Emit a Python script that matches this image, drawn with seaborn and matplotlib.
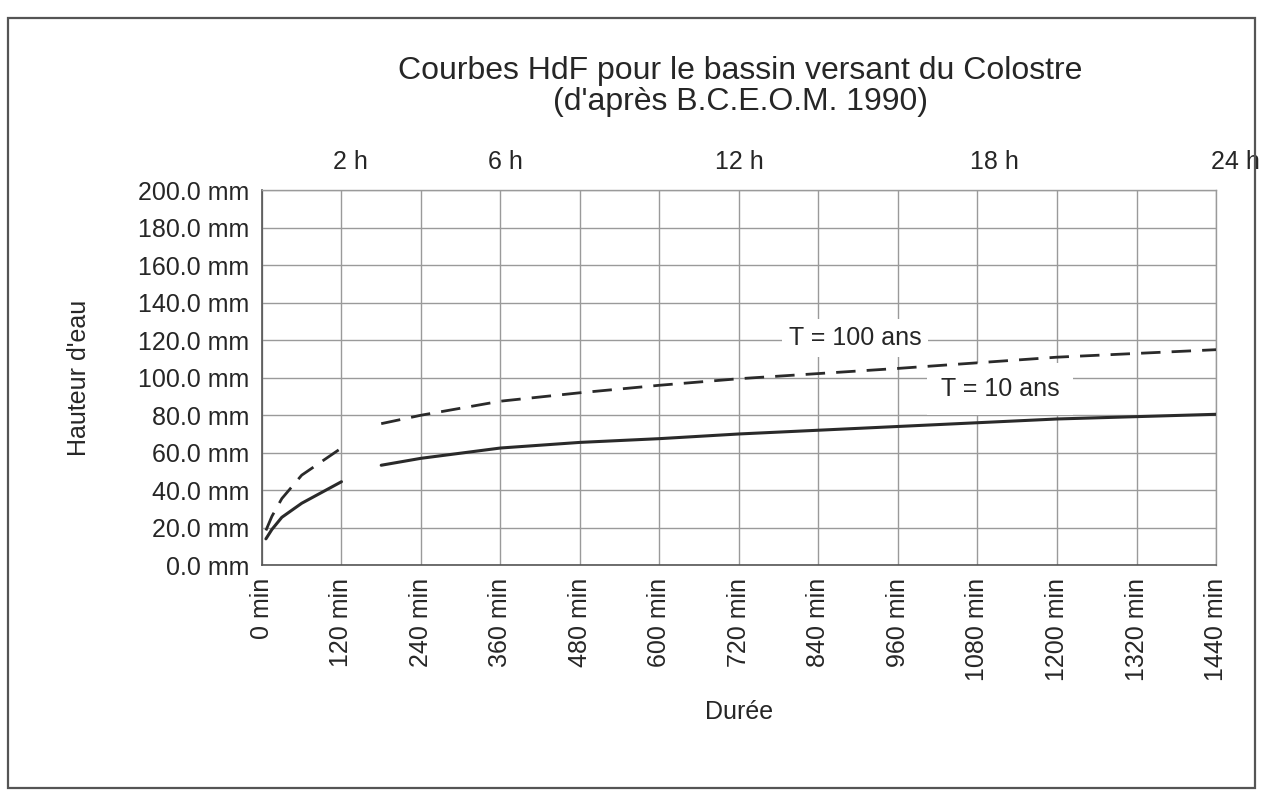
import numpy as np
import pandas as pd
import matplotlib
matplotlib.use("Agg")
import matplotlib.pyplot as plt
from matplotlib.patches import Rectangle
import seaborn as sns

# Durations (min) and rainfall depths (mm), short-duration and long-duration branches
dur_short = [6, 15, 30, 60, 120]
dur_long = [180, 240, 360, 480, 600, 720, 960, 1200, 1440]

t10_short = [14.0, 19.0, 25.5, 33.0, 44.5]
t10_long = [53.3, 57.0, 62.5, 65.5, 67.5, 70.0, 74.0, 78.0, 80.5]

t100_short = [18.5, 26.0, 35.5, 48.0, 62.5]
t100_long = [75.5, 80.0, 87.5, 92.0, 96.0, 99.5, 105.0, 111.0, 115.0]

x_ticks = list(range(0, 1441, 120))
y_ticks = list(range(0, 201, 20))
hour_labels = ["2 h", "6 h", "12 h", "18 h", "24 h"]
hour_pos = [133, 367, 721, 1106, 1470]

title = "Courbes HdF pour le bassin versant du Colostre\n(d'après B.C.E.O.M. 1990)"

FS = 18

sns.set_style("white")
plt.rcParams["font.family"] = ["Liberation Sans", "DejaVu Sans"]

fig = plt.figure(figsize=(12.63, 7.97), dpi=100)
ax = fig.add_axes([0.2074, 0.291, 0.7554, 0.470])

# frame around the whole chart
fig.patches.append(Rectangle((8 / 1263, 1 - 788 / 797), (1255 - 8) / 1263, (788 - 18) / 797,
                             transform=fig.transFigure, fill=False,
                             edgecolor="#555555", linewidth=1.6))

frames = []
for name, ds, vs in [("T10", dur_short, t10_short), ("T10", dur_long, t10_long),
                     ("T100", dur_short, t100_short), ("T100", dur_long, t100_long)]:
    frames.append(pd.DataFrame({"duree": ds, "hauteur": vs, "serie": name,
                                "branche": "court" if ds is dur_short else "long"}))
df = pd.concat(frames, ignore_index=True)

for (serie, branche), sub in df.groupby(["serie", "branche"]):
    if serie == "T10":
        sns.lineplot(data=sub, x="duree", y="hauteur", ax=ax, color="#2a2a2a",
                     linewidth=2.2, zorder=5, sort=True)
    else:
        line = sns.lineplot(data=sub, x="duree", y="hauteur", ax=ax, color="#2a2a2a",
                            linewidth=2.0, zorder=5, sort=True).lines[-1]
        line.set_dashes([7, 4])

ax.set_xlim(0, 1440)
ax.set_ylim(0, 200)
ax.set_xticks(x_ticks)
ax.set_xticklabels([f"{v} min" for v in x_ticks], rotation=90, fontsize=FS)
ax.set_yticks(y_ticks)
ax.set_yticklabels([f"{v:.1f} mm" for v in y_ticks], fontsize=FS)
ax.grid(True, color="#9a9a9a", linewidth=1.0)
ax.set_axisbelow(True)
ax.tick_params(axis="both", direction="inout", length=8, width=1, color="#555555", pad=5)
for side in ["top", "right"]:
    ax.spines[side].set_color("#9a9a9a")
    ax.spines[side].set_linewidth(1.0)
for side in ["left", "bottom"]:
    ax.spines[side].set_color("#555555")
    ax.spines[side].set_linewidth(1.2)

ax.set_xlabel("Durée", fontsize=FS, labelpad=14)
ax.set_ylabel("Hauteur d'eau", fontsize=FS, labelpad=34)

for lab, pos in zip(hour_labels, hour_pos):
    ax.annotate(lab, xy=(pos, 1.0), xycoords=("data", "axes fraction"),
                xytext=(0, 12), textcoords="offset points", ha="center", va="bottom",
                fontsize=FS, annotation_clip=False)

ax.text(895, 121, "T = 100 ans", ha="center", va="center", fontsize=FS, zorder=4,
        bbox=dict(facecolor="white", edgecolor="none", pad=5))
ax.text(1114, 94, "T = 10 ans", ha="center", va="center", fontsize=FS, zorder=4,
        bbox=dict(facecolor="white", edgecolor="none", pad=10))

fig.text(0.586, 0.892, title, ha="center", va="center", fontsize=23, linespacing=1.05)

fig.savefig("out.png", dpi=100)
